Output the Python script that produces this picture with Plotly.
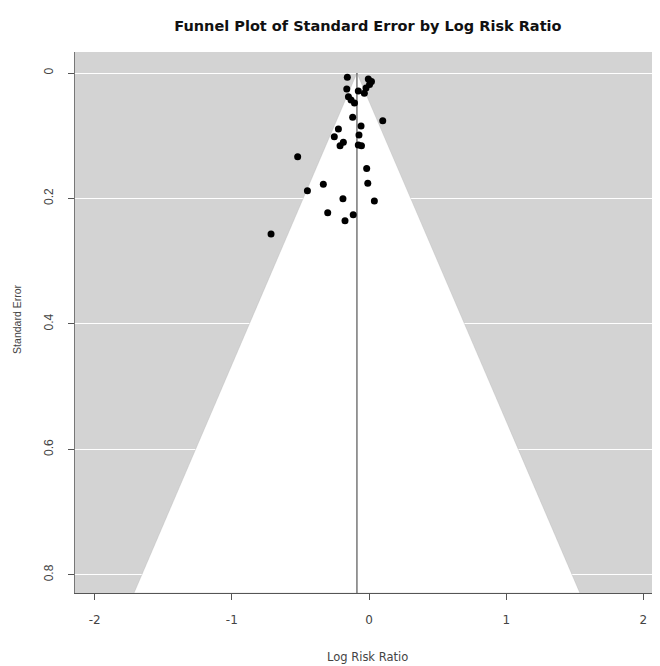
import plotly.graph_objects as go

# Study data (log risk ratio, standard error)
log_rr = [-0.158, -0.005, 0.018, 0.004, -0.022, -0.162, -0.078, -0.034,
          -0.150, -0.131, -0.106, -0.119, 0.100, -0.058, -0.223, -0.073,
          -0.253, -0.187, -0.211, -0.078, -0.055, -0.520, -0.017, -0.009,
          -0.333, -0.449, 0.039, -0.190, -0.301, -0.115, -0.175, -0.714]
std_err = [0.0069, 0.0096, 0.0136, 0.0183, 0.0239, 0.0255, 0.0287, 0.0324,
           0.0378, 0.0431, 0.0478, 0.0707, 0.0761, 0.0845, 0.0894, 0.0989,
           0.1016, 0.1105, 0.1160, 0.1148, 0.1160, 0.1335, 0.1523, 0.1759,
           0.1775, 0.1877, 0.2041, 0.2005, 0.2228, 0.2260, 0.2356, 0.2568]

pooled_estimate = -0.088
z_crit = 1.96
x_ticks = [-2, -1, 0, 1, 2]
y_ticks = [0, 0.2, 0.4, 0.6, 0.8]
y_tick_labels = ["0", "0.2", "0.4", "0.6", "0.8"]
x_limits = [-2.143, 2.121]
y_limits = [-0.0335, 0.829]

se_bottom = y_limits[1]
funnel_x = [pooled_estimate, pooled_estimate - z_crit * se_bottom,
            pooled_estimate + z_crit * se_bottom, pooled_estimate]
funnel_y = [0, se_bottom, se_bottom, 0]

fig = go.Figure()
fig.add_trace(go.Scatter(x=funnel_x, y=funnel_y, fill="toself", fillcolor="white",
                         mode="lines", line=dict(color="rgba(170,170,170,0.5)", width=0.6),
                         hoverinfo="skip", showlegend=False))
fig.add_trace(go.Scatter(x=[pooled_estimate, pooled_estimate], y=[0, se_bottom],
                         mode="lines", line=dict(color="#555555", width=1.2),
                         hoverinfo="skip", showlegend=False))
fig.add_trace(go.Scatter(x=log_rr, y=std_err, mode="markers",
                         marker=dict(color="black", size=7),
                         showlegend=False))

wide_font = "DejaVu Sans, Verdana, sans-serif"
narrow_font = "Liberation Sans, Arial, sans-serif"
fig.update_layout(
    width=652, height=658,
    margin=dict(l=67, r=0, t=44, b=73),
    paper_bgcolor="white",
    plot_bgcolor="#d3d3d3",
    title=dict(text="<b>Funnel Plot of Standard Error by Log Risk Ratio</b>",
               x=0.552, xanchor="center", y=0.972, yanchor="middle",
               font=dict(family=wide_font, size=14.5, color="#111111")),
    font=dict(family=wide_font, color="#444444"),
    annotations=[
        dict(text="Log Risk Ratio", xref="paper", yref="paper", x=0.5, y=-0.118,
             xanchor="center", yanchor="middle", showarrow=False,
             font=dict(family=wide_font, size=11.5, color="#444444")),
        dict(text="Standard Error", xref="paper", yref="paper", x=-0.099, y=0.505,
             xanchor="center", yanchor="middle", showarrow=False, textangle=-90,
             font=dict(family=narrow_font, size=10.5, color="#444444")),
    ],
)
fig.update_xaxes(range=x_limits, tickvals=x_ticks, ticktext=[str(v) for v in x_ticks],
                 showgrid=False, zeroline=False, showline=True, linecolor="#555555",
                 linewidth=1, ticks="outside", ticklen=6, tickcolor="#555555",
                 ticklabelstandoff=10,
                 tickfont=dict(family=wide_font, size=12, color="#444444"))
fig.update_yaxes(range=[y_limits[1], y_limits[0]], tickvals=y_ticks,
                 ticktext=y_tick_labels, tickangle=-90,
                 showgrid=True, gridcolor="white", gridwidth=1.2, zeroline=False,
                 showline=True, linecolor="#777777", linewidth=1,
                 ticks="outside", ticklen=6, tickcolor="#555555",
                 ticklabelstandoff=10,
                 tickfont=dict(family=narrow_font, size=12, color="#444444"))

fig.write_html("out.html")
